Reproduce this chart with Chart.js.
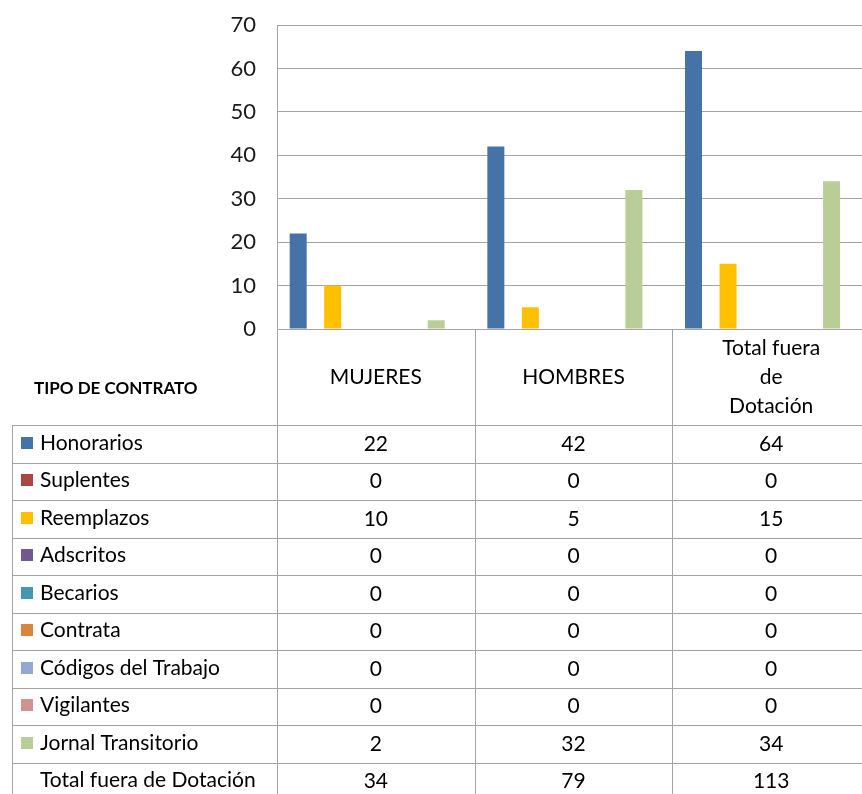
<!DOCTYPE html>
<html>
<head>
<meta charset="utf-8">
<script src="https://cdn.jsdelivr.net/npm/chart.js@4.4.0/dist/chart.umd.min.js"></script>
<style>
body { margin: 0; background: #fff; overflow: hidden; }
#wrap { width: 870px; height: 794px; }
</style>
</head>
<body>
<div id="wrap"><canvas id="chart" width="870" height="794"></canvas></div>
<script>
var categories = [['MUJERES'], ['HOMBRES'], ['Total fuera', 'de', 'Dotación']];
var seriesNames = ['Honorarios', 'Suplentes', 'Reemplazos', 'Adscritos', 'Becarios', 'Contrata', 'Códigos del Trabajo', 'Vigilantes', 'Jornal Transitorio'];
var honorarios = [22, 42, 64];
var suplentes = [0, 0, 0];
var reemplazos = [10, 5, 15];
var adscritos = [0, 0, 0];
var becarios = [0, 0, 0];
var contrata = [0, 0, 0];
var codigosTrabajo = [0, 0, 0];
var vigilantes = [0, 0, 0];
var jornalTransitorio = [2, 32, 34];
var totalLabel = 'Total fuera de Dotación';
var totals = [34, 79, 113];
var yMin = 0, yMax = 70, yStep = 10;

var seriesValues = [honorarios, suplentes, reemplazos, adscritos, becarios, contrata, codigosTrabajo, vigilantes, jornalTransitorio];
var colors = ['#4572a7', '#aa4643', '#ffc000', '#71588f', '#4198af', '#db843d', '#93a9cf', '#d19392', '#b9cd96'];
var gridColor = '#a3a3a3';
var font = 'Lato, "Open Sans", sans-serif';

var datasets = seriesNames.map(function (name, i) {
    return {
        label: name,
        data: seriesValues[i],
        backgroundColor: colors[i],
        borderWidth: 0,
    };
});
// the total row is a series without fill, as in the spreadsheet
datasets.push({
    label: totalLabel,
    data: totals,
    backgroundColor: 'transparent',
    borderWidth: 0,
});

function hline(ctx, x1, x2, y) {
    y = Math.round(y) + 0.5;
    ctx.beginPath(); ctx.moveTo(x1, y); ctx.lineTo(x2, y); ctx.stroke();
}
function vline(ctx, x, y1, y2) {
    x = Math.round(x) + 0.5;
    ctx.beginPath(); ctx.moveTo(x, y1); ctx.lineTo(x, y2); ctx.stroke();
}

var dataTable = {
    id: 'dataTable',
    afterDraw: function (chart) {
        var ctx = chart.ctx;
        var xs = chart.scales.x;
        var area = chart.chartArea;
        var step = xs.getPixelForTick(1) - xs.getPixelForTick(0);
        var left = 12, top = 425, rowH = 37.5;
        var rows = chart.data.datasets;
        var bottom = top + rows.length * rowH;
        ctx.save();
        ctx.strokeStyle = gridColor;
        ctx.lineWidth = 1;
        for (var i = 0; i <= rows.length; i++) {
            hline(ctx, left, area.right, top + i * rowH);
        }
        vline(ctx, left, top, bottom);
        vline(ctx, area.left, area.bottom, bottom);
        for (var c = 1; c < categories.length; c++) {
            vline(ctx, xs.getPixelForTick(c) - step / 2, area.bottom, bottom);
        }

        ctx.fillStyle = '#000';
        ctx.textBaseline = 'middle';
        ctx.textAlign = 'left';
        ctx.font = 'bold 17px ' + font;
        ctx.fillText('TIPO DE CONTRATO', 34, 389);

        // category headers
        ctx.font = '21px ' + font;
        ctx.textAlign = 'center';
        var headMid = (area.bottom + top) / 2;
        categories.forEach(function (lines, c) {
            var cx = xs.getPixelForTick(c);
            var lh = 29;
            var y0 = headMid - (lines.length - 1) * lh / 2;
            lines.forEach(function (t, k) {
                ctx.fillText(t, cx, y0 + k * lh);
            });
        });

        rows.forEach(function (ds, r) {
            var cy = top + r * rowH + rowH / 2;
            if (ds.backgroundColor !== 'transparent') {
                ctx.fillStyle = ds.backgroundColor;
                ctx.fillRect(21, Math.round(cy - 7), 12, 12);
            }
            ctx.fillStyle = '#000';
            ctx.textAlign = 'left';
            ctx.font = '21px ' + font;
            ctx.fillText(ds.label, 40, cy - 1);
            ctx.textAlign = 'center';
            ds.data.forEach(function (v, c) {
                ctx.fillText(String(v), xs.getPixelForTick(c), cy);
            });
        });
        ctx.restore();
    },
};

var chart = new Chart(document.getElementById('chart').getContext('2d'), {
    type: 'bar',
    data: {
        labels: categories,
        datasets: datasets,
    },
    options: {
        responsive: false,
        animation: false,
        layout: { padding: { left: 0, top: 25, right: 0, bottom: 457 } },
        plugins: {
            legend: { display: false },
            tooltip: { enabled: false },
        },
        datasets: {
            bar: { categoryPercentage: 0.873, barPercentage: 0.985 },
        },
        scales: {
            x: {
                ticks: { display: false },
                grid: { display: false },
                border: { display: true, color: gridColor, width: 1 },
            },
            y: {
                min: yMin,
                max: yMax,
                afterFit: function (scale) {
                    scale.width = 277;
                    scale.paddingTop = 0;
                    scale.paddingBottom = 0;
                },
                ticks: {
                    stepSize: yStep,
                    padding: 21,
                    color: '#1a1a1a',
                    font: { family: font, size: 22 },
                },
                grid: { color: gridColor, lineWidth: 1, drawTicks: false },
                border: { display: true, color: gridColor, width: 1 },
            },
        },
    },
    plugins: [dataTable],
});
</script>
</body>
</html>
